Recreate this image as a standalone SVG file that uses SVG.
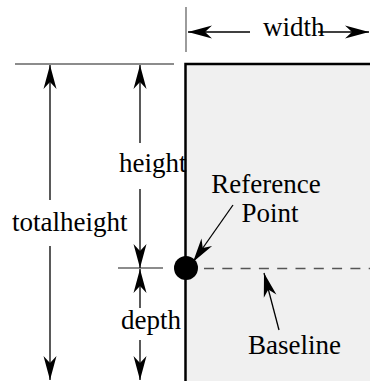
<svg xmlns="http://www.w3.org/2000/svg" width="370" height="381" viewBox="0 0 370 381">
  <style>
    text { font-family: "Liberation Serif", "DejaVu Serif", serif; font-size: 27px; fill: #000; }
    .ext { stroke: #666; stroke-width: 1.3; fill: none; }
    .arr { stroke: #000; stroke-width: 1.3; fill: none; }
    .arrE { marker-end: url(#ah); }
  </style>
  <defs>
    <marker id="ah" markerUnits="userSpaceOnUse" markerWidth="30" markerHeight="18" viewBox="-26 -9 30 18" refX="0" refY="0" orient="auto">
      <path d="M0,0 L-24,-6.5 L-17,0 L-24,6.5 Z" fill="#000"/>
    </marker>
  </defs>

  <g id="box">
    <rect x="185.5" y="64" width="200" height="330" fill="#f0f0f0" stroke="#000" stroke-width="2.5"/>
  </g>

  <g id="extension-lines">
    <line class="ext" x1="186" y1="7" x2="186" y2="52"/>
    <line class="ext" x1="15" y1="64" x2="174" y2="64"/>
    <line class="ext" x1="118" y1="268" x2="163" y2="268"/>
    <line x1="204" y1="268.5" x2="370" y2="268.5" stroke="#555" stroke-width="1.3" stroke-dasharray="10 8.3"/>
  </g>

  <g id="connectors">
    <line class="arr arrE" x1="250" y1="32" x2="188" y2="32"/>
    <line class="arr arrE" x1="318" y1="32" x2="369" y2="32"/>
    <line class="arr arrE" x1="50" y1="200" x2="50" y2="65"/>
    <line class="arr arrE" x1="50" y1="246" x2="50" y2="380"/>
    <line class="arr arrE" x1="140" y1="143" x2="140" y2="65"/>
    <line class="arr arrE" x1="140" y1="189" x2="140" y2="268"/>
    <line class="arr arrE" x1="140" y1="308" x2="140" y2="269"/>
    <line class="arr arrE" x1="140" y1="340" x2="140" y2="380"/>
    <line class="arr arrE" x1="233" y1="205" x2="193" y2="262"/>
    <line class="arr arrE" x1="279" y1="330" x2="264" y2="273"/>
  </g>

  <g id="reference-point">
    <circle cx="186" cy="268" r="12" fill="#000"/>
  </g>

  <g id="labels">
    <text x="263" y="36">width</text>
    <text x="119" y="172">height</text>
    <text x="12" y="231">totalheight</text>
    <text x="121" y="329">depth</text>
    <text x="266" y="193" text-anchor="middle">Reference</text>
    <text x="270" y="222" text-anchor="middle">Point</text>
    <text x="248" y="354">Baseline</text>
  </g>
</svg>
